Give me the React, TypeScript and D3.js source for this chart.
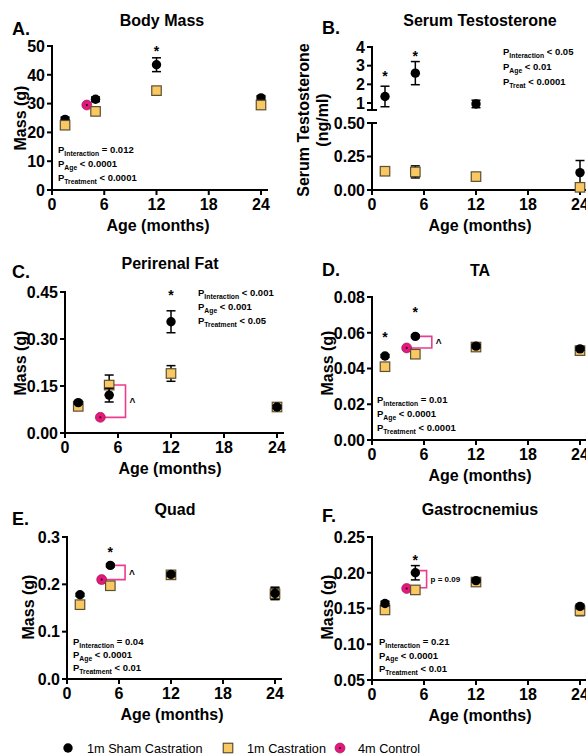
import React from 'react';
import * as d3 from 'd3';

const FONT = "'Liberation Sans', Arial, Helvetica, sans-serif";

// ---------- data ----------
const ages = [1.5, 5, 12, 24];
const controlAge = 4;
const xTicks = [0, 6, 12, 18, 24];

// A. Body Mass (g)
const bodyMassSham = [24.5, 31.5, 43.5, 32.0];
const bodyMassShamSem = [0.8, 0.8, 2.4, 0.7];
const bodyMassCast = [22.5, 27.3, 34.5, 29.5];
const bodyMassCastSem = [0.8, 0.8, 1.2, 0.7];
const bodyMassCtrl = 29.5;

// B. Serum Testosterone (ng/ml)
const testoSham = [1.35, 2.6, 0.95, 0.13];
const testoShamSem = [0.55, 0.62, 0.2, 0.09];
const testoCast = [0.14, 0.135, 0.1, 0.02];
const testoCastSem = [0.03, 0.045, 0.01, 0.01];

// C. Perirenal Fat (g)
const fatSham = [0.097, 0.121, 0.355, 0.083];
const fatShamSem = [0.005, 0.022, 0.035, 0.005];
const fatCast = [0.085, 0.153, 0.19, 0.083];
const fatCastSem = [0.005, 0.032, 0.025, 0.005];
const fatCtrl = 0.05;

// D. TA (g)
const taSham = [0.047, 0.058, 0.0525, 0.051];
const taShamSem = [0.0008, 0.0008, 0.001, 0.0008];
const taCast = [0.041, 0.048, 0.052, 0.05];
const taCastSem = [0.0008, 0.0008, 0.001, 0.0008];
const taCtrl = 0.0515;

// E. Quad (g)
const quadSham = [0.178, 0.24, 0.221, 0.181];
const quadShamSem = [0.003, 0.003, 0.004, 0.013];
const quadCast = [0.157, 0.197, 0.22, 0.18];
const quadCastSem = [0.004, 0.005, 0.004, 0.012];
const quadCtrl = 0.21;

// F. Gastrocnemius (g)
const gastSham = [0.157, 0.2, 0.189, 0.153];
const gastShamSem = [0.003, 0.01, 0.002, 0.003];
const gastCast = [0.148, 0.176, 0.187, 0.147];
const gastCastSem = [0.004, 0.005, 0.003, 0.007];
const gastCtrl = 0.178;

// statistics text
const statsA = [['Interaction', '= 0.012'], ['Age', '< 0.0001'], ['Treatment', '< 0.0001']];
const statsB = [['Interaction', '< 0.05'], ['Age', '< 0.01'], ['Treat', '< 0.0001']];
const statsC = [['Interaction', '< 0.001'], ['Age', '< 0.001'], ['Treatment', '< 0.05']];
const statsD = [['Interaction', '= 0.01'], ['Age', '< 0.0001'], ['Treatment', '< 0.0001']];
const statsE = [['Interaction', '= 0.04'], ['Age', '< 0.0001'], ['Treatment', '< 0.01']];
const statsF = [['Interaction', '= 0.21'], ['Age', '< 0.0001'], ['Treatment', '< 0.01']];

// significance stars [age, value]
const starsA = [[12, 49.3]];
const starsB = [[1.5, 2.6], [5, 3.7]];
const starsC = [[12, 0.45]];
const starsD = [[1.5, 0.0593], [5, 0.0733]];
const starsE = [[5, 0.275]];
const starsF = [[5, 0.222]];

// brackets vs 4m control
const bracketC = { top: 0.153, bottom: 0.05, xv: 6.85, label: '^' };
const bracketD = { top: 0.058, bottom: 0.0515, xv: 6.9, label: '^' };
const bracketE = { top: 0.24, bottom: 0.21, xv: 6.7, label: '^' };
const bracketF = { top: 0.203, bottom: 0.179, xv: 6.3, label: 'p = 0.09' };

// legend
const legendLabels = ['1m Sham Castration', '1m Castration', '4m Control'];

// ---------- colors ----------
const BLACK = '#000';
const YELLOW = '#f8c862';
const YELLOW_EDGE = '#5e4f33';
const PINK = '#e2187c';
const PINK_BR = '#ea3d8f';

type PanelCfg = {
  letter: string; title: string; yLabel: string[];
  ax: number; x24: number; yBot: number;
  y: (v: number) => number;
  yTicks: { v: number; label: string }[];
  segments: [number, number][];
  breaks?: number[];
  sham: number[]; shamSem: number[]; cast: number[]; castSem: number[]; ctrl?: number;
  castOnTop: boolean;
  stars: number[][];
  bracket?: { top: number; bottom: number; xv: number; label: string };
  stats: string[][]; statsX: number; statsY: number; statsGap: number;
  letterPos: [number, number]; titlePos: [number, number];
  yLabelPos: [number, number]; xLabelX: number;
};

function lin(domain: number[], range: number[]) {
  const s = d3.scaleLinear().domain(domain).range(range);
  return (v: number) => s(v);
}

const upperB = d3.scaleLinear().domain([0.625, 4]).range([110, 47]);
const lowerB = d3.scaleLinear().domain([0, 0.5]).range([190, 123]);
const yB = (v: number) => (v > 0.56 ? upperB(v) : lowerB(v));

const fmt2 = d3.format('.2f');
const fmt1 = d3.format('.1f');

const panels: PanelCfg[] = [
  {
    letter: 'A.', title: 'Body Mass', yLabel: ['Mass (g)'],
    ax: 52, x24: 261, yBot: 190,
    y: lin([0, 50], [190, 46]),
    yTicks: [0, 10, 20, 30, 40, 50].map((v) => ({ v, label: String(v) })),
    segments: [[46, 190]],
    sham: bodyMassSham, shamSem: bodyMassShamSem, cast: bodyMassCast, castSem: bodyMassCastSem, ctrl: bodyMassCtrl,
    castOnTop: true, stars: starsA,
    stats: statsA, statsX: 58, statsY: 153, statsGap: 14,
    letterPos: [12, 29], titlePos: [162, 20], yLabelPos: [20, 118], xLabelX: 158,
  },
  {
    letter: 'B.', title: 'Serum Testosterone', yLabel: ['Serum Testosterone', '(ng/ml)'],
    ax: 372, x24: 580, yBot: 190,
    y: yB,
    yTicks: [
      ...[1, 2, 3, 4].map((v) => ({ v, label: String(v) })),
      ...[0, 0.25, 0.5].map((v) => ({ v, label: fmt2(v) })),
    ],
    segments: [[47, 110], [123, 190]],
    breaks: [110, 123],
    sham: testoSham, shamSem: testoShamSem, cast: testoCast, castSem: testoCastSem,
    castOnTop: true, stars: starsB,
    stats: statsB, statsX: 503, statsY: 55, statsGap: 15,
    letterPos: [322, 28], titlePos: [480, 20], yLabelPos: [303, 120], xLabelX: 480,
  },
  {
    letter: 'C.', title: 'Perirenal Fat', yLabel: ['Mass (g)'],
    ax: 65, x24: 277, yBot: 433,
    y: lin([0, 0.45], [433, 292]),
    yTicks: [0, 0.15, 0.3, 0.45].map((v) => ({ v, label: fmt2(v) })),
    segments: [[292, 433]],
    sham: fatSham, shamSem: fatShamSem, cast: fatCast, castSem: fatCastSem, ctrl: fatCtrl,
    castOnTop: false, stars: starsC, bracket: bracketC,
    stats: statsC, statsX: 198, statsY: 296, statsGap: 14,
    letterPos: [12, 272], titlePos: [170, 263], yLabelPos: [20, 363], xLabelX: 170,
  },
  {
    letter: 'D.', title: 'TA', yLabel: ['Mass (g)'],
    ax: 372, x24: 580, yBot: 440,
    y: lin([0, 0.08], [440, 297]),
    yTicks: [0, 0.02, 0.04, 0.06, 0.08].map((v) => ({ v, label: fmt2(v) })),
    segments: [[297, 440]],
    sham: taSham, shamSem: taShamSem, cast: taCast, castSem: taCastSem, ctrl: taCtrl,
    castOnTop: false, stars: starsD, bracket: bracketD,
    stats: statsD, statsX: 377, statsY: 403, statsGap: 14,
    letterPos: [322, 270], titlePos: [480, 270], yLabelPos: [327, 363], xLabelX: 480,
  },
  {
    letter: 'E.', title: 'Quad', yLabel: ['Mass (g)'],
    ax: 67, x24: 275, yBot: 679,
    y: lin([0, 0.3], [679, 537]),
    yTicks: [0, 0.1, 0.2, 0.3].map((v) => ({ v, label: fmt1(v) })),
    segments: [[537, 679]],
    sham: quadSham, shamSem: quadShamSem, cast: quadCast, castSem: quadCastSem, ctrl: quadCtrl,
    castOnTop: false, stars: starsE, bracket: bracketE,
    stats: statsE, statsX: 73, statsY: 645, statsGap: 13,
    letterPos: [12, 519], titlePos: [175, 509], yLabelPos: [28, 607], xLabelX: 172,
  },
  {
    letter: 'F.', title: 'Gastrocnemius', yLabel: ['Mass (g)'],
    ax: 372, x24: 580, yBot: 680,
    y: lin([0.05, 0.25], [680, 537]),
    yTicks: [0.05, 0.1, 0.15, 0.2, 0.25].map((v) => ({ v, label: fmt2(v) })),
    segments: [[537, 680]],
    sham: gastSham, shamSem: gastShamSem, cast: gastCast, castSem: gastCastSem, ctrl: gastCtrl,
    castOnTop: false, stars: starsF, bracket: bracketF,
    stats: statsF, statsX: 379, statsY: 645, statsGap: 13.5,
    letterPos: [322, 516], titlePos: [480, 509], yLabelPos: [327, 607], xLabelX: 480,
  },
];

const R = 4.7;
const SQ = 9.5;
const CAP = 4.5;

function ErrorBars({ xs, ys, sems, x, y }: { xs: number[]; ys: number[]; sems: number[]; x: (v: number) => number; y: (v: number) => number }) {
  return (
    <g stroke={BLACK} strokeWidth={1.5} fill="none">
      {xs.map((a, i) => {
        const cx = x(a);
        const y1 = y(ys[i] + sems[i]);
        const y2 = y(ys[i] - sems[i]);
        return (
          <g key={i}>
            <line x1={cx} x2={cx} y1={y1} y2={y2} />
            <line x1={cx - CAP} x2={cx + CAP} y1={y1} y2={y1} />
            <line x1={cx - CAP} x2={cx + CAP} y1={y2} y2={y2} />
          </g>
        );
      })}
    </g>
  );
}

function ControlMarker({ cx, cy }: { cx: number; cy: number }) {
  return (
    <g>
      <circle cx={cx} cy={cy} r={R + 0.3} fill={PINK} stroke="#9a1050" strokeWidth={0.6} />
      <circle cx={cx} cy={cy} r={1.1} fill="#2a0614" />
    </g>
  );
}

function Panel({ p }: { p: PanelCfg }) {
  const xs = d3.scaleLinear().domain([0, 24]).range([p.ax, p.x24]);
  const x = (v: number) => xs(v);
  const y = p.y;

  const shamGroup = (
    <g key="sham">
      <ErrorBars xs={ages} ys={p.sham} sems={p.shamSem} x={x} y={y} />
      {ages.map((a, i) => (
        <circle key={i} cx={x(a)} cy={y(p.sham[i])} r={R} fill={BLACK} />
      ))}
    </g>
  );
  const castGroup = (
    <g key="cast">
      <ErrorBars xs={ages} ys={p.cast} sems={p.castSem} x={x} y={y} />
      {ages.map((a, i) => (
        <rect key={i} x={x(a) - SQ / 2} y={y(p.cast[i]) - SQ / 2} width={SQ} height={SQ}
          fill={YELLOW} stroke={YELLOW_EDGE} strokeWidth={1.2} />
      ))}
    </g>
  );
  const groups = p.castOnTop ? [shamGroup, castGroup] : [castGroup, shamGroup];

  return (
    <g fontFamily={FONT}>
      <text x={p.letterPos[0]} y={p.letterPos[1]} dy="0.36em" fontSize={18} fontWeight="bold">{p.letter}</text>
      <text x={p.titlePos[0]} y={p.titlePos[1]} dy="0.36em" fontSize={16} fontWeight="bold" textAnchor="middle">{p.title}</text>

      {p.yLabel.map((l, i) => (
        <text key={i} transform={`translate(${p.yLabelPos[0] + i * 19},${p.yLabelPos[1]}) rotate(-90)`}
          dy="0.36em" fontSize={16} fontWeight="bold" textAnchor="middle">{l}</text>
      ))}
      <text x={p.xLabelX} y={p.yBot + 35} dy="0.36em" fontSize={16} fontWeight="bold" textAnchor="middle">Age (months)</text>

      <g stroke={BLACK} strokeWidth={2}>
        {p.segments.map((s, i) => (
          <line key={i} x1={p.ax} x2={p.ax} y1={s[0] - 1} y2={s[1] + 1} />
        ))}
        {(p.breaks || []).map((b, i) => (
          <line key={'b' + i} x1={p.ax - 5} x2={p.ax + 5} y1={b} y2={b} />
        ))}
        {p.yTicks.map((t, i) => (
          <line key={'t' + i} x1={p.ax - 5} x2={p.ax} y1={y(t.v)} y2={y(t.v)} />
        ))}
      </g>
      {p.yTicks.map((t, i) => (
        <text key={i} x={p.ax - 7} y={y(t.v)} dy="0.36em" fontSize={16} fontWeight="bold" textAnchor="end">{t.label}</text>
      ))}

      <g stroke={BLACK} strokeWidth={2}>
        <line x1={p.ax - 1} x2={p.x24 + 7} y1={p.yBot} y2={p.yBot} />
        {xTicks.map((t) => (
          <line key={t} x1={x(t)} x2={x(t)} y1={p.yBot} y2={p.yBot + 5} />
        ))}
      </g>
      {xTicks.map((t) => (
        <text key={t} x={x(t)} y={p.yBot + 20} fontSize={16} fontWeight="bold" textAnchor="middle">{t}</text>
      ))}

      {p.stats.map((s, i) => (
        <text key={i} x={p.statsX} y={p.statsY + i * p.statsGap} fontSize={9.5} fontWeight="bold">
          P<tspan fontSize={6.8} dy={2.8}>{s[0]}</tspan>
          <tspan dy={-2.8}>{' ' + s[1]}</tspan>
        </text>
      ))}

      {p.stars.map((s, i) => (
        <text key={i} x={x(s[0])} y={y(s[1]) + 8} fontSize={14} fontWeight="bold" textAnchor="middle">*</text>
      ))}

      {p.bracket && (
        <g>
          <path d={`M${x(5)},${y(p.bracket.top)}H${x(p.bracket.xv)}V${y(p.bracket.bottom)}H${x(controlAge)}`}
            fill="none" stroke={PINK_BR} strokeWidth={1.6} />
          <text x={x(p.bracket.xv) + 4}
            y={y((p.bracket.top + p.bracket.bottom) / 2) + (p.bracket.label === '^' ? 5 : 3)}
            fontSize={p.bracket.label === '^' ? 10 : 8} fontWeight="bold">{p.bracket.label}</text>
        </g>
      )}

      {p.ctrl !== undefined && <ControlMarker cx={x(controlAge)} cy={y(p.ctrl)} />}

      {groups}
    </g>
  );
}

export default function App() {
  return (
    <svg width={586} height={755} viewBox="0 0 586 755"
      style={{ position: 'absolute', left: 0, top: 0, background: '#fff' }}>
      <rect width={586} height={755} fill="#fff" />
      {panels.map((p) => (
        <Panel key={p.letter} p={p} />
      ))}
      <g fontFamily={FONT} fontSize={12.7}>
        <circle cx={68} cy={748} r={R} fill={BLACK} />
        <text x={87} y={752.5}>{legendLabels[0]}</text>
        <rect x={228 - SQ / 2} y={748 - SQ / 2} width={SQ} height={SQ} fill={YELLOW} stroke={YELLOW_EDGE} strokeWidth={1.2} />
        <text x={247} y={752.5}>{legendLabels[1]}</text>
        <ControlMarker cx={340} cy={748} />
        <text x={358} y={752.5}>{legendLabels[2]}</text>
      </g>
    </svg>
  );
}
